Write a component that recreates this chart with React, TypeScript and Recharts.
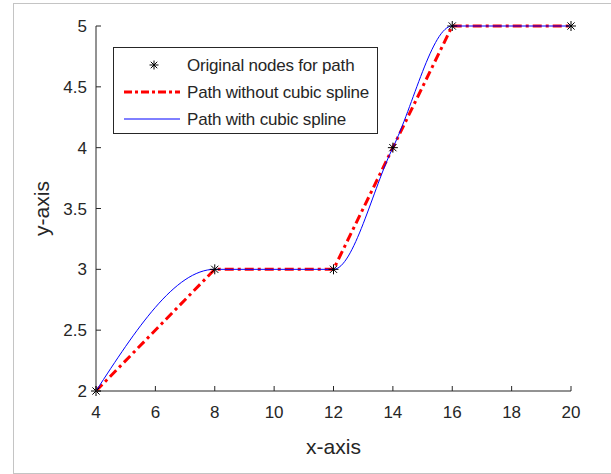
import React from "react";
import { LineChart, Line, XAxis, YAxis, Legend } from "recharts";

const xNodes = [4, 8, 12, 14, 16, 20];
const yNodes = [2, 3, 3, 4, 5, 5];
const xTicks = [4, 6, 8, 10, 12, 14, 16, 18, 20];
const yTicks = [2, 2.5, 3, 3.5, 4, 4.5, 5];
const legendLabels = [
  "Original nodes for path",
  "Path without cubic spline",
  "Path with cubic spline",
];

const data = xNodes.map((x, i) => ({ x, y: yNodes[i] }));

const FONT = "'Liberation Sans', Arial, sans-serif";
const AXIS = "#262626";
const RED_DASH = "9 4 3 4";

const Star = ({ cx, cy, r = 5 }: { cx: number; cy: number; r?: number }) => {
  const d = r * 0.72;
  return (
    <g stroke="#000" strokeWidth={1}>
      <line x1={cx - r} y1={cy} x2={cx + r} y2={cy} />
      <line x1={cx} y1={cy - r} x2={cx} y2={cy + r} />
      <line x1={cx - d} y1={cy - d} x2={cx + d} y2={cy + d} />
      <line x1={cx - d} y1={cy + d} x2={cx + d} y2={cy - d} />
    </g>
  );
};

const NodeDot = (props: any) => {
  const { cx, cy, index } = props;
  if (cx == null || cy == null) return null;
  return <Star key={index} cx={cx} cy={cy} r={5} />;
};

// MATLAB style: tick marks point into the plot
const InTick = (props: any) => {
  const { x, y, payload, side } = props;
  const len = 5;
  if (side === "bottom") {
    return (
      <g>
        <line x1={x} y1={y} x2={x} y2={y - len} stroke={AXIS} />
        <text x={x} y={y + 15} dy="0.71em" textAnchor="middle" fill={AXIS} fontSize={17} fontFamily={FONT}>
          {payload.value}
        </text>
      </g>
    );
  }
  if (side === "left") {
    return (
      <g>
        <line x1={x} y1={y} x2={x + len} y2={y} stroke={AXIS} />
        <text x={x - 9} y={y} dy="0.355em" textAnchor="end" fill={AXIS} fontSize={17} fontFamily={FONT}>
          {payload.value}
        </text>
      </g>
    );
  }
  if (side === "top") {
    return <line x1={x} y1={y} x2={x} y2={y + len} stroke={AXIS} />;
  }
  return <line x1={x} y1={y} x2={x - len} y2={y} stroke={AXIS} />;
};

const LegendBox = () => (
  <svg width={266} height={88} style={{ display: "block" }}>
    <rect x={0.5} y={0.5} width={264} height={86} fill="#fff" stroke={AXIS} />
    <Star cx={41} cy={18} r={4.5} />
    <line x1={11} y1={45} x2={67} y2={45} stroke="#ff0000" strokeWidth={3} strokeDasharray="8 3 3 3" />
    <line x1={11} y1={72} x2={67} y2={72} stroke="#0000ff" strokeWidth={1} />
    {legendLabels.map((t, i) => (
      <text key={t} x={74} y={18 + i * 27} dy="0.355em" fontSize={17} fontFamily={FONT} fill={AXIS} letterSpacing={-0.2}>
        {t}
      </text>
    ))}
  </svg>
);

export default function App() {
  return (
    <div style={{ position: "absolute", left: 0, top: 0, width: 611, height: 474, background: "#fff" }}>
      <div
        style={{
          position: "absolute",
          left: 13,
          top: 3,
          width: 600,
          height: 469,
          border: "1px solid #c4c4c4",
          borderRight: "none",
        }}
      />
      <div style={{ position: "absolute", left: 0, top: 0 }}>
        <LineChart width={611} height={474} data={data} margin={{ top: 26, right: 40, left: 0, bottom: 0 }}>
          <XAxis
            dataKey="x"
            type="number"
            domain={[4, 20]}
            ticks={xTicks}
            height={83}
            tickSize={0}
            tickMargin={0}
            axisLine={{ stroke: AXIS }}
            tick={<InTick side="bottom" />}
            label={(p: any) => (
              <text
                x={p.viewBox.x + p.viewBox.width / 2}
                y={p.viewBox.y + 56}
                dy="0.355em"
                textAnchor="middle"
                fontSize={21}
                fontFamily={FONT}
                fill={AXIS}
              >
                x-axis
              </text>
            )}
          />
          <XAxis
            xAxisId="top"
            orientation="top"
            type="number"
            domain={[4, 20]}
            ticks={xTicks}
            height={0}
            tickSize={0}
            tickMargin={0}
            axisLine={{ stroke: AXIS }}
            tick={<InTick side="top" />}
          />
          <YAxis
            type="number"
            domain={[2, 5]}
            ticks={yTicks}
            width={96}
            tickSize={0}
            tickMargin={0}
            axisLine={{ stroke: AXIS }}
            tick={<InTick side="left" />}
            label={(p: any) => {
              const cx = p.viewBox.x + 42;
              const cy = p.viewBox.y + p.viewBox.height / 2;
              return (
                <text
                  x={cx}
                  y={cy}
                  dy="0.355em"
                  textAnchor="middle"
                  transform={`rotate(-90 ${cx} ${cy})`}
                  fontSize={21}
                  fontFamily={FONT}
                  fill={AXIS}
                >
                  y-axis
                </text>
              );
            }}
          />
          <YAxis
            yAxisId="right"
            orientation="right"
            type="number"
            domain={[2, 5]}
            ticks={yTicks}
            width={0}
            tickSize={0}
            tickMargin={0}
            axisLine={{ stroke: AXIS }}
            tick={<InTick side="right" />}
          />
          <Legend
            layout="horizontal"
            verticalAlign="middle"
            align="center"
            content={() => <LegendBox />}
            wrapperStyle={{ position: "absolute", left: 113, top: 47, width: 266, height: 88 }}
          />
          <Line
            dataKey="y"
            type="linear"
            stroke="none"
            dot={<NodeDot />}
            activeDot={false}
            legendType="none"
            isAnimationActive={false}
          />
          <Line
            dataKey="y"
            type="linear"
            stroke="#ff0000"
            strokeWidth={3}
            strokeDasharray={RED_DASH}
            dot={false}
            activeDot={false}
            isAnimationActive={false}
          />
          <Line
            dataKey="y"
            type="monotone"
            stroke="#0000ff"
            strokeWidth={1}
            dot={false}
            activeDot={false}
            isAnimationActive={false}
          />
        </LineChart>
      </div>
    </div>
  );
}
